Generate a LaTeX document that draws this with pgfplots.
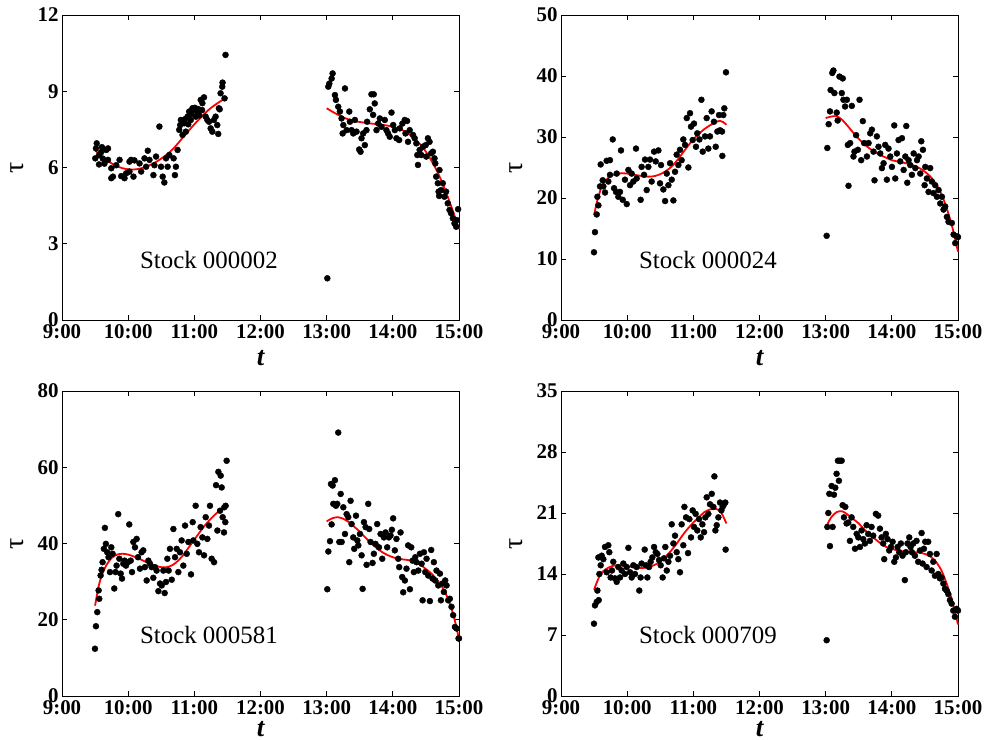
\documentclass[border=0pt]{standalone}
\usepackage{fontspec}
\setmainfont{Liberation Serif}
\usepackage{pgfplots}
\pgfplotsset{compat=1.18}

\pgfplotsset{
  panel/.style={
    scale only axis, width=397bp, height=305bp,
    xmin=0, xmax=360, ymin=0, clip=false,
    xtick={0,60,...,360},
    xticklabels={9:00,10:00,11:00,12:00,13:00,14:00,15:00},
    tick align=inside, major tick length=5bp,
    axis line style={line width=0.8bp},
    every tick/.style={black, line width=0.7bp},
    tick label style={font=\fontsize{21}{21}\selectfont\bfseries},
    xticklabel style={yshift=-1.5bp},
    /pgf/number format/assume math mode=true,
    xlabel={\fontsize{27}{27}\selectfont\bfseries\itshape t},
    ylabel={\fontsize{28}{28}\selectfont τ},
    ylabel style={at={(axis description cs:-0.112,0.5)}, anchor=center},
  },
  toprow/.style={xlabel style={at={(axis description cs:0.5,-0.125)}, anchor=center}},
  botrow/.style={xlabel style={at={(axis description cs:0.5,-0.108)}, anchor=center}},
  dots/.style={only marks, mark=*, mark size=3bp,
    mark options={draw=black, fill=black}},
  fit/.style={no marks, draw=red, line width=1.8bp, smooth},
}
\tikzset{stock/.style={font=\fontsize{25}{25}\selectfont, anchor=center}}

\begin{document}
\begin{tikzpicture}
\path[use as bounding box] (0,0) rectangle (985bp,740bp);

% ---------------- Stock 000002 ----------------
\begin{axis}[panel, toprow, at={(62bp,420bp)}, anchor=south west,
  ymax=12, ytick={0,3,6,9,12}]
\addplot[dots] coordinates {
(30.2,6.36) (30.8,6.75) (31.5,6.95) (33.6,6.49) (33.6,6.12) (35.5,6.6) (36.2,6.8)
(37.0,6.35) (38.5,6.15) (40.2,6.69) (41.7,6.75) (41.7,6.30) (44.7,5.97) (46.2,5.64)
(44.7,5.58) (49.2,6.09) (52.2,6.30) (53.7,5.66) (56.7,5.58) (58.2,5.77) (61.2,6.23)
(62.7,6.30) (65.7,6.28) (64.8,5.64) (61.2,5.84) (70.3,6.16) (71.8,5.84) (74.8,6.36)
(77.8,6.66) (76.3,6.03) (79.3,6.30) (82.9,5.70) (83.8,6.09) (85.3,6.43) (88.3,7.61)
(91.3,5.64) (92.8,5.41) (89.8,6.03) (94.3,6.36) (97.3,6.49) (95.8,6.03) (101.2,6.36)
(102.4,5.70) (103.3,6.03) (104.8,6.69) (106.3,7.48) (107.8,7.87) (107.2,7.67)
(110.8,7.74) (109.3,7.28) (112.3,7.41) (111.5,7.9) (113.8,8.00) (114.5,7.7)
(115.3,8.20) (117.5,8.1) (118.3,8.33) (119.8,8.26) (116.8,7.87) (120.5,8.35)
(121.3,8.00) (122.8,8.20) (123.5,8.3) (124.5,8.05) (125.8,8.66) (127.3,8.53)
(128.8,8.76) (127.0,8.26) (130.3,8.00) (131.8,7.87) (133.3,7.80) (134.8,7.54)
(136.3,7.41) (137.8,7.87) (139.3,8.00) (140.8,7.67) (141.7,7.32) (142.3,8.33)
(143.0,8.29) (143.8,8.92) (145.3,9.18) (145.6,9.34) (147.4,8.72) (148.3,10.43)
(240.6,1.64) (241.5,9.18) (242.4,9.3) (244.5,9.5) (245.4,9.7) (247.5,8.85)
(248.4,8.66) (250.5,8.39) (252.0,8.2) (253.5,7.93) (255.1,7.67) (254.5,7.34)
(256.6,9.11) (258.1,7.47) (260.5,8.2) (261.1,7.8) (262.6,7.47) (264.1,7.34)
(265.6,7.87) (267.1,7.41) (269.5,6.71) (270.7,6.62) (271.6,7.15) (273.1,7.34)
(274.6,6.88) (276.1,7.47) (276.7,7.8) (279.1,8.29) (280.6,8.88) (282.7,8.88)
(283.6,8.52) (282.1,8.07) (285.2,7.47) (286.7,7.73) (288.2,7.93) (289.7,7.6)
(292.7,7.87) (294.2,7.47) (295.7,7.34) (297.2,7.21) (298.8,8.16) (300.3,7.67)
(301.8,7.47) (303.3,7.15) (305.7,7.08) (306.3,7.54) (308.7,7.73) (310.8,7.87)
(312.9,7.83) (311.5,7.34) (313.8,7.01) (315.3,7.47) (318.3,7.28) (319.8,7.15)
(321.3,6.95) (322.2,6.49) (322.8,6.1) (324.3,6.69) (325.8,6.49) (327.3,6.82)
(329.8,6.88) (331.8,7.15) (333.3,7.01) (330.3,6.43) (334.8,6.56) (336.3,6.62)
(337.8,6.36) (338.5,6.16) (339.3,5.64) (340.8,5.38) (342.3,5.9) (343.8,5.11)
(345.3,5.38) (341.5,5.05) (342.0,4.88) (346.8,4.85) (348.3,5.05) (349.8,4.59)
(351.4,4.33) (352.8,4.2) (354.4,4.0) (355.9,3.8) (357.4,3.67) (359.2,4.36) (358.0,3.93)
};
\addplot[fit] coordinates {
(30,6.68) (35,6.47) (40,6.3) (45,6.16) (50,6.05) (55,5.97) (60,5.93) (65,5.92)
(70,5.95) (75,6.01) (80,6.1) (85,6.21) (90,6.35) (95,6.51) (100,6.7) (105,6.94)
(110,7.2) (115,7.45) (120,7.7) (125,7.93) (130,8.15) (135,8.34) (140,8.5)
(145,8.64) (150,8.76)
};
\addplot[fit] coordinates {
(240,8.33) (245,8.2) (250,8.08) (255,7.97) (260,7.89) (265,7.83) (270,7.79)
(275,7.76) (280,7.73) (285,7.71) (290,7.68) (295,7.65) (300,7.6) (305,7.54)
(310,7.44) (315,7.3) (320,7.12) (325,6.9) (330,6.62) (335,6.27) (340,5.86)
(345,5.38) (350,4.82) (355,4.22) (360,3.58)
};
\node[stock] at (rel axis cs:0.37,0.198) {Stock 000002};
\end{axis}

% ---------------- Stock 000024 ----------------
\begin{axis}[panel, toprow, at={(561bp,420bp)}, anchor=south west,
  ymax=50, ytick={0,10,...,50}]
\addplot[dots] coordinates {
(29.9,11.1) (30.8,14.4) (32.4,17.3) (33.9,18.8) (33.0,20.2) (35.4,21.9) (36.0,25.5)
(37.8,22.9) (39.9,20.9) (38.4,21.9) (41.4,26.1) (44.4,26.2) (42.9,22.7) (44.4,23.8)
(46.9,29.6) (48.1,21.6) (49.9,21.0) (50.5,24.0) (52.0,20.2) (53.5,21.0) (54.4,27.8)
(56.0,19.7) (58.0,23.0) (59.6,19.0) (61.1,24.6) (62.6,22.1) (64.1,24.0) (65.6,22.7)
(68.0,28.1) (68.6,23.2) (72.2,19.7) (73.1,25.1) (75.3,23.8) (76.2,26.3) (77.7,21.3)
(79.2,25.1) (80.7,26.3) (82.2,22.7) (84.4,27.6) (85.9,26.0) (88.3,27.8) (89.8,22.4)
(90.7,25.4) (92.8,21.4) (94.4,19.5) (95.9,24.0) (97.4,22.1) (98.9,25.7) (100.4,23.0)
(101.9,19.6) (103.4,24.3) (104.9,27.1) (106.4,25.4) (107.9,27.9) (109.4,26.2)
(110.9,29.6) (112.5,28.7) (114.0,33.1) (115.5,25.0) (117.0,33.9) (117.9,31.7)
(119.4,29.5) (120.6,32.2) (122.4,28.4) (123.6,30.6) (125.5,29.6) (127.3,36.1)
(128.5,27.6) (130.6,30.1) (132.1,33.1) (133.6,28.1) (135.1,30.1) (136.6,34.2)
(138.7,32.5) (140.3,28.4) (141.8,30.9) (143.3,33.6) (144.2,31.1) (146.3,26.9)
(147.2,33.6) (148.1,34.7) (149.6,40.6) (146.0,30.9)
(240.9,13.8) (241.5,28.2) (242.7,32.1) (243.9,34.2) (244.5,37.7) (246.0,40.5)
(247.0,40.9) (247.9,37.2) (250.0,34.0) (250.9,32.7) (252.5,39.9) (255.5,39.6)
(254.6,37.2) (256.1,36.1) (257.6,35.0) (259.2,36.1) (260.1,28.7) (260.7,22.0)
(262.2,29.0) (263.7,35.1) (265.2,26.8) (266.1,27.6) (267.6,30.3) (269.2,27.9)
(270.7,36.1) (272.2,26.2) (273.7,32.6) (274.9,29.0) (277.4,26.8) (278.9,29.0)
(280.4,30.6) (281.9,31.2) (283.4,27.6) (284.3,22.9) (286.4,30.1) (287.9,28.4)
(289.5,27.3) (291.0,24.9) (292.5,25.7) (294.0,28.7) (295.5,23.0) (297.0,28.1)
(298.6,26.8) (300.1,25.1) (302.2,31.9) (303.1,23.2) (304.6,27.3) (306.1,29.5)
(307.6,26.0) (309.2,29.8) (310.7,24.6) (312.2,26.8) (313.1,31.8) (314.0,22.5)
(315.2,26.2) (316.7,25.4) (318.2,23.8) (319.8,27.3) (321.3,24.9) (322.8,26.2)
(324.3,26.8) (326.7,29.3) (325.8,24.0) (328.2,27.9) (329.7,22.1) (330.3,25.1)
(331.8,23.2) (333.3,21.0) (334.8,24.9) (336.3,22.7) (337.8,20.8) (339.3,22.1)
(340.9,20.2) (342.4,21.3) (343.9,19.1) (345.4,20.2) (346.9,18.1) (348.4,18.6)
(349.9,16.9) (351.4,16.1) (354.4,15.9) (356.0,14.0) (357.5,12.6) (359.0,13.7)
(360.0,13.6)
};
\addplot[fit] coordinates {
(30,17.2) (32,18.9) (34,20.3) (36,21.4) (38,22.2) (40,22.8) (45,23.6) (50,23.95)
(55,24.05) (60,24.0) (65,23.85) (70,23.7) (75,23.55) (80,23.5) (85,23.6) (90,23.9)
(95,24.4) (100,25.1) (105,26.1) (110,27.3) (115,28.5) (120,29.6) (125,30.5)
(130,31.3) (135,31.9) (140,32.4) (144,32.65) (147,32.45) (150,32.0)
};
\addplot[fit] coordinates {
(240,33.1) (245,33.35) (250,33.4) (255,32.8) (260,31.8) (265,30.7) (270,29.7)
(275,28.8) (280,28.1) (285,27.5) (290,27.0) (295,26.6) (300,26.2) (305,26.0)
(310,25.8) (315,25.6) (320,25.3) (325,24.9) (330,24.3) (335,23.5) (340,22.3)
(345,20.6) (350,18.2) (355,15.1) (360,11.2)
};
\node[stock] at (rel axis cs:0.37,0.198) {Stock 000024};
\end{axis}

% ---------------- Stock 000581 ----------------
\begin{axis}[panel, botrow, at={(62bp,44bp)}, anchor=south west,
  ymax=80, ytick={0,20,...,80}]
\addplot[dots] coordinates {
(29.9,12.4) (30.8,18.3) (32.0,22.0) (33.2,27.7) (33.8,25.5) (35.0,31.6) (35.9,33.1)
(36.8,35.1) (38.9,44.1) (38.0,38.6) (39.8,39.9) (41.0,37.7) (42.2,36.4) (43.5,32.5)
(44.7,39.0) (45.9,37.3) (47.4,28.2) (48.6,32.5) (51.0,47.7) (49.5,34.2) (52.0,36.0)
(53.2,32.1) (54.4,30.8) (55.6,34.7) (56.8,35.5) (58.0,34.2) (61.0,45.0) (59.8,35.1)
(62.3,35.5) (63.5,32.5) (64.7,40.4) (66.2,39.0) (67.7,41.2) (68.9,36.4) (70.7,33.4)
(72.2,37.7) (73.7,38.2) (75.2,33.8) (76.8,30.3) (78.3,35.5) (79.8,34.7) (81.3,33.8)
(82.8,31.0) (84.3,33.8) (85.8,32.9) (87.4,27.5) (88.9,29.5) (90.4,29.0) (91.9,32.9)
(93.1,27.0) (94.3,29.9) (95.5,36.0) (96.7,32.9) (97.9,38.6) (99.5,30.5) (101.0,43.8)
(102.5,36.4) (104.0,38.6) (105.5,32.5) (107.0,37.7) (108.5,40.8) (110.0,34.2)
(111.6,44.7) (113.1,37.3) (114.6,40.4) (117.0,31.9) (118.5,45.6) (119.1,40.8)
(121.2,49.9) (122.7,39.9) (124.2,37.7) (125.7,44.3) (127.3,41.6) (128.8,36.9)
(130.3,46.9) (131.8,41.2) (133.3,44.7) (134.2,49.9) (135.7,36.0) (137.9,35.1)
(139.7,55.3) (141.8,58.8) (140.9,43.4) (143.3,48.6) (143.9,57.8) (144.8,54.7)
(145.7,46.9) (146.9,42.9) (148.1,45.6) (147.2,49.5) (149.3,61.7) (148.4,49.9)
(240.6,28.0) (241.5,37.9) (243.0,40.6) (243.9,55.6) (245.4,55.2) (244.5,45.0)
(246.0,50.4) (247.5,56.6) (248.4,49.9) (250.5,69.1) (249.6,50.4) (251.5,40.4)
(252.7,53.0) (253.6,40.4) (255.1,49.5) (256.6,42.5) (258.1,47.7) (259.6,46.9)
(260.5,35.1) (261.7,51.2) (262.6,45.1) (264.1,41.6) (265.0,38.6) (266.6,47.3)
(267.8,40.8) (268.7,39.5) (270.2,42.5) (271.7,36.9) (272.6,28.1) (273.8,45.6)
(275.3,44.3) (276.2,34.4) (277.7,50.4) (278.6,43.8) (279.8,40.4) (281.6,34.9)
(282.8,37.3) (284.3,39.9) (285.8,45.1) (287.4,39.0) (288.9,42.5) (290.4,36.0)
(291.9,41.6) (293.4,42.9) (294.9,39.0) (296.4,41.6) (297.9,42.1) (299.1,43.6)
(300.3,46.6) (301.8,38.2) (303.3,41.2) (304.9,36.0) (305.8,33.8) (307.0,42.9)
(308.5,31.2) (309.4,27.2) (310.9,30.3) (312.4,33.4) (313.9,39.5) (315.5,28.0)
(316.7,39.0) (317.9,35.5) (319.1,32.5) (320.3,36.4) (321.5,35.1) (323.1,32.9)
(324.6,37.3) (326.1,34.7) (327.0,25.1) (328.2,37.7) (329.4,32.5) (330.6,36.0)
(332.1,31.6) (333.6,24.9) (334.8,38.3) (336.0,30.8) (337.2,35.1) (338.4,30.3)
(339.6,32.9) (341.2,29.0) (342.7,32.1) (343.6,25.1) (345.1,29.5) (346.3,27.3)
(347.5,30.3) (348.7,29.0) (350.2,25.1) (351.7,25.5) (353.2,23.4) (354.7,21.2)
(356.3,18.1) (357.8,17.7) (359.6,15.1) (360.0,15.1)
};
\addplot[fit] coordinates {
(30,23.7) (33,28.5) (36,31.6) (40,34.2) (45,36.2) (50,37.1) (55,37.3) (60,37.1)
(65,36.6) (70,36.0) (75,35.3) (80,34.6) (85,34.1) (90,33.8) (95,33.8) (100,34.3)
(105,35.4) (110,37.0) (115,39.0) (120,41.0) (125,43.0) (130,44.9) (135,46.5)
(140,47.9) (145,49.0) (150,50.0)
};
\addplot[fit] coordinates {
(240,45.8) (245,46.6) (250,46.9) (255,46.5) (260,45.6) (265,44.4) (270,43.1)
(275,41.6) (280,40.1) (285,38.9) (290,37.8) (295,37.0) (300,36.4) (305,36.0)
(310,35.8) (315,35.6) (320,35.2) (325,34.4) (330,33.3) (335,32.1) (340,30.5)
(345,28.5) (350,25.5) (355,21.2) (360,15.0)
};
\node[stock] at (rel axis cs:0.37,0.2) {Stock 000581};
\end{axis}

% ---------------- Stock 000709 ----------------
\begin{axis}[panel, botrow, at={(561bp,44bp)}, anchor=south west,
  ymax=35, ytick={0,7,...,35}]
\addplot[dots] coordinates {
(29.9,8.3) (30.8,10.4) (32.4,10.8) (33.0,12.1) (34.2,11.0) (34.8,14.0) (33.9,15.9)
(36.0,15.0) (36.9,16.1) (38.4,15.7) (39.9,17.1) (41.4,14.2) (42.9,17.3) (43.8,16.5)
(45.0,13.6) (46.2,14.4) (47.4,15.4) (48.9,13.5) (50.5,13.1) (52.0,14.8) (53.5,13.6)
(55.0,14.4) (56.5,15.2) (58.0,14.0) (59.6,14.8) (61.1,17.0) (62.6,14.2) (64.1,13.6)
(65.6,15.0) (67.1,14.0) (68.6,14.8) (71.0,12.1) (72.2,13.6) (73.1,15.2) (75.9,16.8)
(77.1,15.0) (78.3,13.6) (79.8,14.8) (81.3,15.4) (82.8,15.9) (84.4,17.1) (85.9,16.5)
(87.4,16.3) (88.9,15.6) (90.4,15.0) (92.2,13.6) (93.4,15.8) (94.6,17.1) (95.9,14.4)
(97.4,15.4) (98.9,16.1) (100.4,19.7) (101.9,17.5) (103.4,18.4) (104.9,16.5)
(106.4,15.7) (107.9,14.2) (109.4,19.7) (110.9,17.3) (111.9,21.7) (113.4,20.5)
(115.2,16.4) (116.4,20.3) (117.9,18.2) (119.4,21.3) (120.6,19.4) (122.1,20.9)
(123.6,19.0) (125.2,20.3) (126.7,18.2) (128.2,19.7) (129.7,18.8) (130.9,20.5)
(132.1,22.8) (133.6,20.9) (135.1,22.0) (136.7,23.2) (138.2,21.7) (139.1,25.2)
(140.0,19.0) (141.2,19.6) (142.7,20.5) (144.2,22.2) (145.4,21.3) (146.6,21.7)
(147.8,22.0) (149.0,22.2) (149.3,16.8)
(240.9,6.4) (241.5,19.4) (242.4,21.0) (243.3,23.2) (243.9,17.2) (245.4,24.1)
(246.3,19.4) (247.5,23.1) (248.7,23.9) (249.9,25.5) (251.1,27.0) (252.9,27.0)
(252.0,24.7) (254.5,27.0) (255.4,21.9) (256.6,20.5) (257.8,21.7) (259.0,19.8)
(260.5,19.9) (262.0,17.8) (263.5,20.5) (265.0,19.4) (266.6,16.9) (268.1,18.6)
(269.6,18.2) (271.1,17.1) (272.6,19.0) (274.1,18.0) (275.6,17.5) (277.1,19.6)
(278.6,18.6) (280.1,17.8) (281.6,19.4) (283.1,18.4) (285.5,20.9) (287.6,20.7)
(289.2,19.2) (290.7,18.2) (292.2,17.5) (293.1,15.7) (294.6,18.6) (296.1,18.0)
(297.6,16.7) (299.2,17.1) (300.7,17.7) (302.2,15.4) (303.7,15.9) (305.2,17.1)
(306.7,16.5) (308.2,17.5) (309.7,16.1) (311.8,13.3) (312.7,16.5) (314.2,17.5)
(315.8,18.2) (317.0,17.1) (318.2,16.5) (319.4,17.5) (320.9,16.1) (322.4,17.8)
(323.9,15.4) (325.5,16.7) (327.0,18.7) (327.9,15.2) (329.1,16.9) (330.3,17.7)
(331.5,14.8) (333.0,17.7) (334.5,16.3) (336.1,14.4) (337.6,15.4) (339.1,13.8)
(340.6,16.3) (342.1,14.0) (343.6,13.5) (345.1,13.6) (346.7,12.9) (348.2,12.3)
(349.7,12.1) (351.2,11.7) (352.7,11.0) (354.2,10.6) (355.7,9.8) (357.2,9.1)
(358.8,10.0) (360.0,9.8)
};
\addplot[fit] coordinates {
(30,12.2) (33,13.2) (36,14.0) (40,14.5) (45,14.85) (50,15.0) (55,15.0) (60,14.9)
(65,14.8) (70,14.7) (75,14.7) (80,14.8) (85,15.05) (90,15.4) (95,16.0) (100,16.7)
(105,17.5) (110,18.4) (115,19.2) (120,19.9) (125,20.5) (130,21.1) (135,21.4)
(140,21.5) (145,21.1) (150,19.8)
};
\addplot[fit] coordinates {
(240,19.3) (245,20.5) (250,21.1) (255,21.2) (260,20.8) (265,20.3) (270,19.8)
(275,19.1) (280,18.5) (285,18.0) (290,17.5) (295,17.1) (300,16.9) (305,16.7)
(310,16.6) (315,16.55) (320,16.5) (325,16.45) (330,16.3) (335,16.0) (340,15.4)
(345,14.4) (350,12.8) (355,10.8) (360,8.2)
};
\node[stock] at (rel axis cs:0.37,0.2) {Stock 000709};
\end{axis}
\end{tikzpicture}
\end{document}
